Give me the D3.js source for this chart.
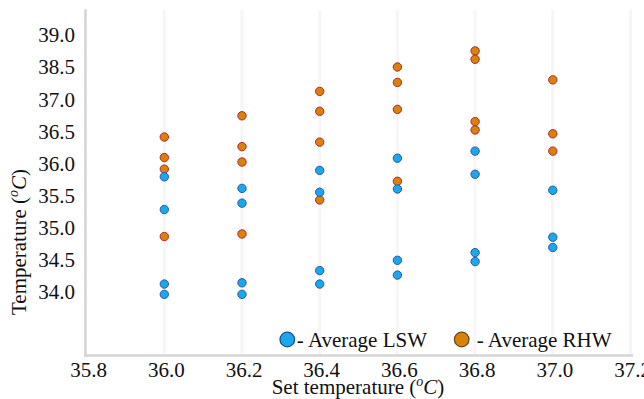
<!DOCTYPE html>
<html><head><meta charset="utf-8">
<script src="https://cdn.jsdelivr.net/npm/d3@7"></script>
<style>
body{margin:0;background:#fff;}
svg{display:block;}
svg text{font-family:"Liberation Serif","Times New Roman",serif;fill:#111;}
</style></head>
<body><svg id="c" width="644" height="399"></svg>
<script>
// Set temperatures (x categories)
const setTemps = [36.0, 36.2, 36.4, 36.6, 36.8, 37.0];
// Average LSW readings per set temperature
const lswValues = [
  [35.79, 35.28, 34.12, 33.96],
  [35.61, 35.38, 34.14, 33.96],
  [35.89, 35.55, 34.33, 34.12],
  [36.08, 35.60, 34.49, 34.26],
  [36.19, 35.83, 34.61, 34.47],
  [35.58, 34.85, 34.69]
];
// Average RHW readings per set temperature
const rhwValues = [
  [36.41, 36.09, 35.91, 34.86],
  [36.74, 36.26, 36.02, 34.90],
  [37.12, 36.81, 36.33, 35.43],
  [37.50, 37.26, 36.84, 35.72],
  [37.75, 37.62, 36.65, 36.52],
  [37.30, 36.46, 36.19]
];
const xTicks = [35.8, 36.0, 36.2, 36.4, 36.6, 36.8, 37.0, 37.2];
const yTicks = [34.0, 34.5, 35.0, 35.5, 36.0, 36.5, 37.0, 37.5, 38.0];
const yTickLabels = ["34.0","34.5","35.0","35.5","36.0","36.5","37.0","38.5","39.0"];
const seriesNames = ["- Average LSW", "- Average RHW"];

const svg = d3.select("#c");
const x = d3.scaleLinear().domain([35.8, 37.2]).range([86.6, 630.5]);
const y = d3.scaleLinear().domain([33, 38.4]).range([356, 9.2]);
const serif = "Liberation Serif";

// faint vertical gridlines
svg.append("g").selectAll("line").data(xTicks.slice(1)).join("line")
  .attr("x1", d => x(d)).attr("x2", d => x(d)).attr("y1", 10).attr("y2", 354)
  .attr("stroke", "#f6f6f6").attr("stroke-width", 3);

// frame lines
svg.append("line").attr("x1", 85.5).attr("x2", 85.5).attr("y1", y(38.4)).attr("y2", 357)
  .attr("stroke", "#d4d4d4").attr("stroke-width", 2.5);
svg.append("line").attr("x1", 84).attr("x2", 633).attr("y1", 355.5).attr("y2", 355.5)
  .attr("stroke", "#d4d4d4").attr("stroke-width", 2.5);

// axes
const xAxis = svg.append("g").attr("transform", "translate(1.5,355)")
  .call(d3.axisBottom(x).tickValues(xTicks).tickFormat(d3.format(".1f")).tickSize(0).tickPadding(21.5))
  .attr("font-family", serif).attr("font-size", 21);
xAxis.select(".domain").remove();
xAxis.selectAll("text").attr("dy", 0).attr("fill", "#000");

const yAxis = svg.append("g").attr("transform", "translate(75,0)")
  .call(d3.axisLeft(y).tickValues(yTicks).tickFormat((d, i) => yTickLabels[i]).tickSize(0).tickPadding(0))
  .attr("font-family", serif).attr("font-size", 21);
yAxis.select(".domain").remove();
yAxis.selectAll("text").attr("dy", "0.33em").attr("fill", "#000");

// points
const lswPts = [], rhwPts = [];
setTemps.forEach((t, i) => {
  lswValues[i].forEach(v => lswPts.push({t, v}));
  rhwValues[i].forEach(v => rhwPts.push({t, v}));
});
svg.append("g").selectAll("circle").data(rhwPts).join("circle")
  .attr("cx", d => x(d.t)).attr("cy", d => y(d.v)).attr("r", 4.2)
  .attr("fill", "#d8820c").attr("stroke", "#b5282a").attr("stroke-width", 1);
svg.append("g").selectAll("circle").data(lswPts).join("circle")
  .attr("cx", d => x(d.t)).attr("cy", d => y(d.v)).attr("r", 4.2)
  .attr("fill", "#1aa7ec").attr("stroke", "#2a5aa8").attr("stroke-width", 1);

// legend
const legend = [
  {name: seriesNames[0], fill: "#1aa7ec", stroke: "#1f4f8f", cx: 287.3, gap: 9.5},
  {name: seriesNames[1], fill: "#d8820c", stroke: "#6b4a20", cx: 461.7, gap: 15}
];
const lg = svg.append("g");
legend.forEach(l => {
  lg.append("circle").attr("cx", l.cx).attr("cy", 339.5).attr("r", 7.3)
    .attr("fill", l.fill).attr("stroke", l.stroke).attr("stroke-width", 1.3);
  lg.append("text").attr("x", l.cx + l.gap).attr("y", 346.5).attr("font-size", 21).text(l.name);
});

// axis titles
const xt = svg.append("text").attr("x", 358).attr("y", 394).attr("text-anchor", "middle").attr("font-size", 21);
xt.append("tspan").text("Set temperature (");
xt.append("tspan").attr("font-style", "italic").attr("font-size", 14).attr("dy", -8).text("o");
xt.append("tspan").attr("font-style", "italic").attr("dy", 8).text("C");
xt.append("tspan").text(")");

const yt = svg.append("text").attr("transform", "translate(26,242) rotate(-90)").attr("text-anchor", "middle").attr("font-size", 21);
yt.append("tspan").text("Temperature (");
yt.append("tspan").attr("font-style", "italic").attr("font-size", 14).attr("dy", -8).text("o");
yt.append("tspan").attr("font-style", "italic").attr("dy", 8).text("C");
yt.append("tspan").text(")");
</script></body></html>
